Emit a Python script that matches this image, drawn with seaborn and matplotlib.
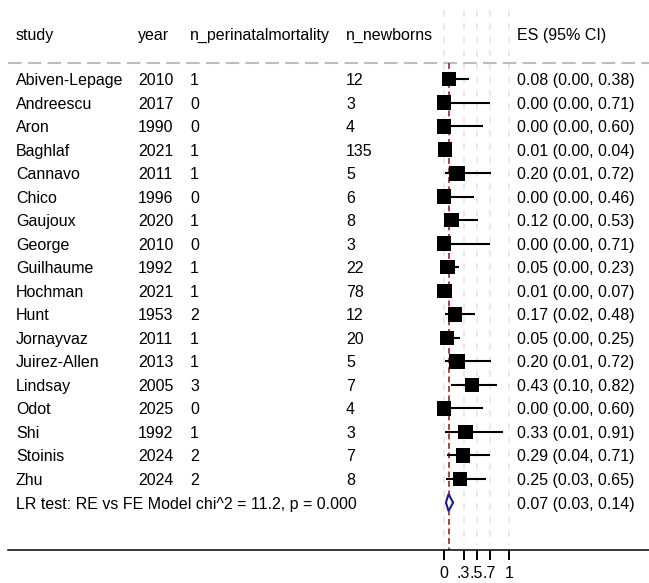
import numpy as np
import pandas as pd
import matplotlib
matplotlib.use("Agg")
import matplotlib.pyplot as plt
import seaborn as sns

# ---------------- data ----------------
studies = ["Abiven-Lepage", "Andreescu", "Aron", "Baghlaf", "Cannavo", "Chico",
           "Gaujoux", "George", "Guilhaume", "Hochman", "Hunt", "Jornayvaz",
           "Juirez-Allen", "Lindsay", "Odot", "Shi", "Stoinis", "Zhu"]
years = [2010, 2017, 1990, 2021, 2011, 1996, 2020, 2010, 1992, 2021, 1953, 2011,
         2013, 2005, 2025, 1992, 2024, 2024]
n_pm = [1, 0, 0, 1, 1, 0, 1, 0, 1, 1, 2, 1, 1, 3, 0, 1, 2, 2]
n_nb = [12, 3, 4, 135, 5, 6, 8, 3, 22, 78, 12, 20, 5, 7, 4, 3, 7, 8]
es = [0.08, 0.00, 0.00, 0.01, 0.20, 0.00, 0.12, 0.00, 0.05, 0.01, 0.17, 0.05,
      0.20, 0.43, 0.00, 0.33, 0.29, 0.25]
lo = [0.00, 0.00, 0.00, 0.00, 0.01, 0.00, 0.00, 0.00, 0.00, 0.00, 0.02, 0.00,
      0.01, 0.10, 0.00, 0.01, 0.04, 0.03]
hi = [0.38, 0.71, 0.60, 0.04, 0.72, 0.46, 0.53, 0.71, 0.23, 0.07, 0.48, 0.25,
      0.72, 0.82, 0.60, 0.91, 0.71, 0.65]
weights = [5.3, 5.8, 5.8, 5.3, 5.9, 5.8, 5.6, 5.8, 5.5, 5.4, 5.6, 5.4, 5.9, 5.6,
           5.8, 5.6, 5.6, 5.3]
overall = (0.07, 0.03, 0.14)
overall_label = "LR test: RE vs FE Model chi^2 = 11.2, p = 0.000"
headers = ["study", "year", "n_perinatalmortality", "n_newborns", "ES (95% CI)"]
tick_vals = [0, 0.3, 0.5, 0.7, 1]
tick_labels = ["0", ".3", ".5", ".7", "1"]

df = pd.DataFrame({"study": studies, "year": years, "n_pm": n_pm, "n_nb": n_nb,
                   "es": es, "lo": lo, "hi": hi, "w": weights})
df["row"] = np.arange(len(df))

# ---------------- layout helpers (pixel geometry) ----------------
W, H = 649, 583
X0_PX, UNIT_PX = 444.0, 65.0        # pixel of x=0, pixels per unit
ROW0_PX, ROW_PX = 79.0, 23.53       # pixel of first row, row spacing
AX_LEFT_PX, AX_BOTTOM_PX = 8.0, 550.0

def px2x(px):
    return (px - X0_PX) / UNIT_PX

def py2y(py):
    return (py - ROW0_PX) / ROW_PX

sns.set_theme(style="white")
plt.rcParams["font.family"] = ["Liberation Sans", "DejaVu Sans"]
plt.rcParams["text.color"] = "black"
plt.rcParams["xtick.color"] = "black"
FS = 11.5

fig = plt.figure(figsize=(W / 100, H / 100), dpi=100)
ax = fig.add_axes([AX_LEFT_PX / W, (H - AX_BOTTOM_PX) / H,
                   (W - AX_LEFT_PX) / W, AX_BOTTOM_PX / H])
ax.set_xlim(px2x(AX_LEFT_PX), px2x(W))
ax.set_ylim(py2y(AX_BOTTOM_PX), py2y(0))
for s in ["top", "right", "left"]:
    ax.spines[s].set_visible(False)
ax.spines["bottom"].set_color("black")
ax.spines["bottom"].set_linewidth(1.1)
ax.set_yticks([])
ax.set_xticks(tick_vals)
ax.set_xticklabels(tick_labels, fontsize=FS)
ax.tick_params(axis="x", direction="out", length=7.2, width=1.4, color="black",
               pad=4.0, bottom=True, labelcolor="black")
ax.set_facecolor("white")

# vertical light grid lines
ax.vlines(tick_vals, py2y(10), py2y(545), colors="#E8E8E8", linewidth=1.2,
          linestyles=(0, (4, 4)), zorder=0)

# header separator
ax.plot([px2x(AX_LEFT_PX), px2x(W)], [py2y(63)] * 2, color="#BDBDBD",
        linewidth=1.5, linestyle=(0, (6.5, 3)), zorder=1, clip_on=False)

# overall effect reference line
ax.vlines(overall[0], py2y(63), py2y(550), colors="#8B2A2A", linewidth=1.2,
          linestyles=(0, (3.5, 2.2)), zorder=1)

# confidence intervals
ax.hlines(df["row"], df["lo"], df["hi"], colors="black", linewidth=1.5, zorder=2)

# weight squares
sns.scatterplot(data=df, x="es", y="row", size="w", sizes=(0, 117),
                size_norm=(0, max(weights)), marker="s", color="black",
                linewidth=0, legend=False, ax=ax, zorder=3)
ax.set_xlabel("")
ax.set_ylabel("")

# overall diamond
ry = len(df)
half_h = 0.36
ax.fill([overall[1], overall[0], overall[2], overall[0]],
        [ry, ry - half_h, ry, ry + half_h], facecolor="white",
        edgecolor="#1C1C8C", linewidth=1.5, zorder=3)

# text columns
col_px = [16, 138, 190, 346, 517]
VA = "center_baseline"
hy = py2y(34)
for txt, px in zip(headers, col_px):
    ax.text(px2x(px), hy, txt, fontsize=FS, va=VA, ha="left")

for _, r in df.iterrows():
    vals = [r["study"], str(r["year"]), str(r["n_pm"]), str(r["n_nb"]),
            f"{r['es']:.2f} ({r['lo']:.2f}, {r['hi']:.2f})"]
    for txt, px in zip(vals, col_px):
        ax.text(px2x(px), r["row"], txt, fontsize=FS, va=VA, ha="left")

ax.text(px2x(col_px[0]), ry, overall_label, fontsize=FS, va=VA, ha="left")
ax.text(px2x(col_px[4]), ry,
        f"{overall[0]:.2f} ({overall[1]:.2f}, {overall[2]:.2f})",
        fontsize=FS, va=VA, ha="left")

fig.savefig("out.png", dpi=100, facecolor="white")
